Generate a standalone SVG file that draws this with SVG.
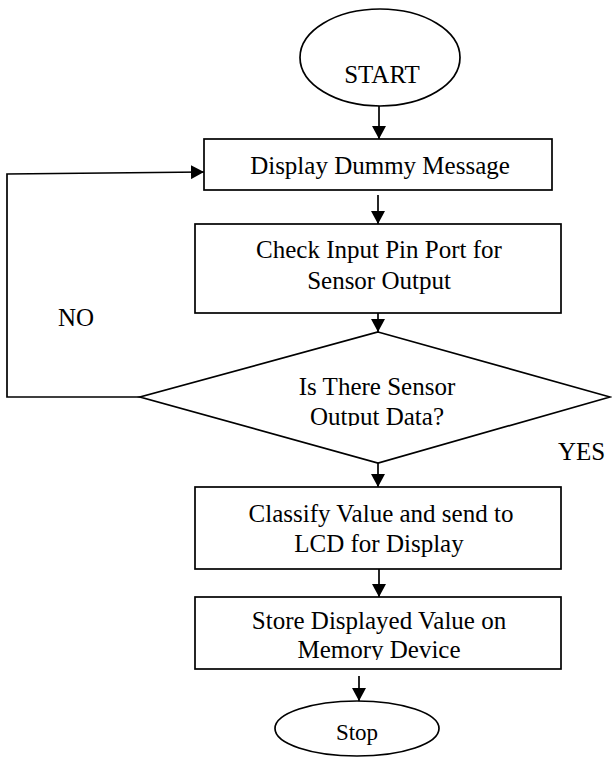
<svg xmlns="http://www.w3.org/2000/svg" width="612" height="758" viewBox="0 0 612 758">
<style>
.s{fill:#fff;stroke:#000;stroke-width:1.7}
.t{font-family:"Liberation Serif","Times New Roman",serif;font-size:25px;fill:#000;text-anchor:middle}
.l{font-family:"Liberation Serif","Times New Roman",serif;font-size:25px;fill:#000}
.c{fill:none;stroke:#000;stroke-width:1.7}
</style>
<defs>
<marker id="ah" markerUnits="userSpaceOnUse" markerWidth="14" markerHeight="14" refX="13" refY="7" orient="auto">
<path d="M0,0 L13,7 L0,14 z" fill="#000"/>
</marker>
<clipPath id="cd"><rect x="140" y="332" width="470" height="94"/></clipPath>
<clipPath id="cm"><rect x="195" y="595" width="366" height="65"/></clipPath>
</defs>
<rect width="612" height="758" fill="#fff"/>
<g id="connectors">
<path class="c" d="M379,106 V139" marker-end="url(#ah)"/>
<path class="c" d="M378,195 V224" marker-end="url(#ah)"/>
<path class="c" d="M378,313 V332" marker-end="url(#ah)"/>
<path class="c" d="M378,463 V487" marker-end="url(#ah)"/>
<path class="c" d="M379,569 V597" marker-end="url(#ah)"/>
<path class="c" d="M359,676 V701" marker-end="url(#ah)"/>
<path class="c" d="M140,397 H7 V174 L204,172" marker-end="url(#ah)"/>
</g>
<g id="start">
<ellipse class="s" cx="380" cy="57.5" rx="80" ry="48.5"/>
<text class="t" x="382" y="83">START</text>
</g>
<g id="display">
<rect class="s" x="204" y="139" width="348" height="51"/>
<text class="t" x="380" y="174">Display Dummy Message</text>
</g>
<g id="check">
<rect class="s" x="195" y="224" width="366" height="89"/>
<text class="t" x="379" y="258">Check Input Pin Port for</text>
<text class="t" x="379" y="289">Sensor Output</text>
</g>
<g id="decision">
<polygon class="s" points="378,332 610,397 378,463 140,397"/>
<g clip-path="url(#cd)">
<text class="t" x="377" y="395">Is There Sensor</text>
<text class="t" x="377" y="425">Output Data?</text>
</g>
</g>
<g id="labels">
<text class="l" x="58" y="326">NO</text>
<text class="l" x="558" y="460">YES</text>
</g>
<g id="classify">
<rect class="s" x="195" y="487" width="366" height="82"/>
<text class="t" x="381" y="522">Classify Value and send to</text>
<text class="t" x="379" y="552">LCD for Display</text>
</g>
<g id="store">
<rect class="s" x="195" y="597" width="366" height="72"/>
<g clip-path="url(#cm)">
<text class="t" x="379" y="629">Store Displayed Value on</text>
<text class="t" x="379" y="658">Memory Device</text>
</g>
</g>
<g id="stop">
<ellipse class="s" cx="357" cy="728.5" rx="82" ry="27.5"/>
<text class="t" x="357" y="740" style="font-size:23px">Stop</text>
</g>
</svg>
